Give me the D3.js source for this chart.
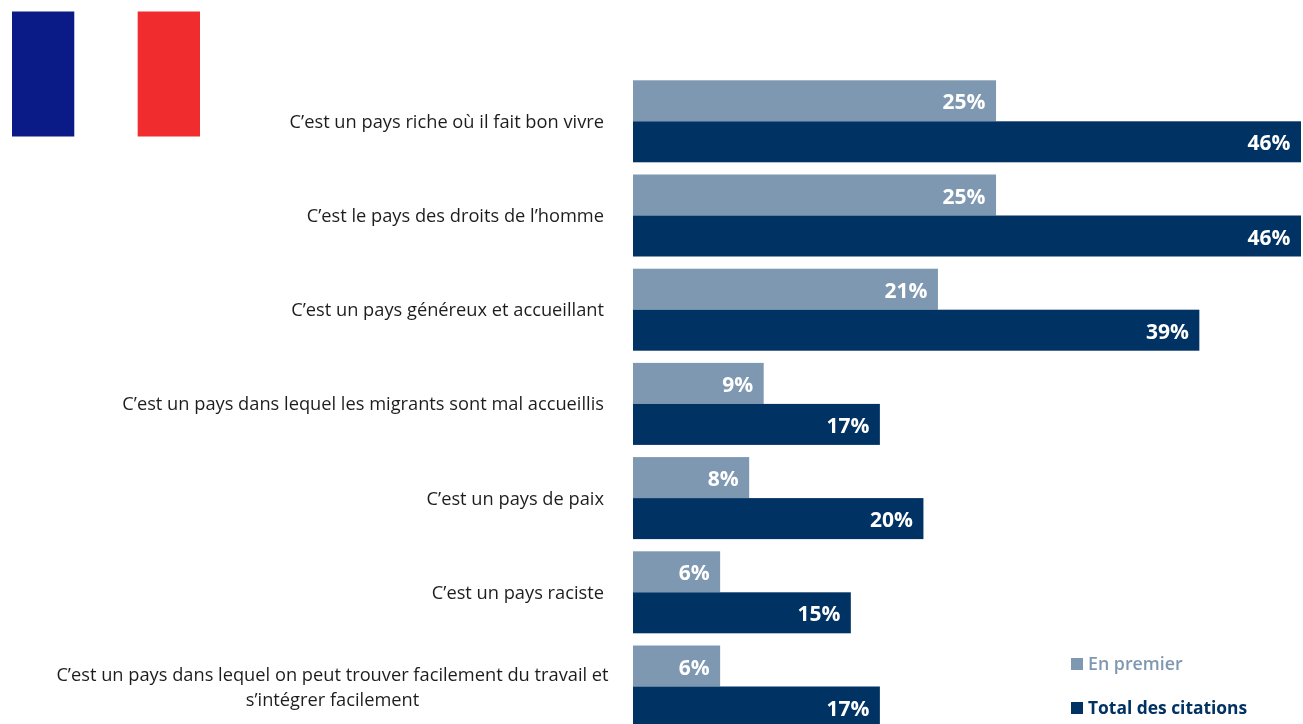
<!DOCTYPE html>
<html><head><meta charset="utf-8">
<script src="https://cdn.jsdelivr.net/npm/d3@7"></script>
<style>html,body{margin:0;padding:0;background:#fff;overflow:hidden}svg{display:block}text{font-family:"Open Sans",sans-serif}</style>
</head><body><svg id="c" width="1303" height="724"></svg>
<script>
const categories=[
 ["C’est un pays riche où il fait bon vivre"],
 ["C’est le pays des droits de l’homme"],
 ["C’est un pays généreux et accueillant"],
 ["C’est un pays dans lequel les migrants sont mal accueillis"],
 ["C’est un pays de paix"],
 ["C’est un pays raciste"],
 ["C’est un pays dans lequel on peut trouver facilement du travail et","s’intégrer facilement"]
];
const enPremier=[25,25,21,9,8,6,6];
const totalCitations=[46,46,39,17,20,15,17];
const seriesNames=["En premier","Total des citations"];
const seriesColors=["#7f98b2","#003263"];
const flagColors=["#0a1a86","#ffffff","#f02c2e"];

const svg=d3.select("#c");
const idx=d3.range(categories.length);
const x=d3.scaleLinear().domain([0,46]).range([633,1301]);
const y=d3.scaleBand().domain(idx).range([80.3,727.5]).paddingInner(0.1295);
const inner=d3.scaleBand().domain([0,1]).range([0,y.bandwidth()]);
const series=[enPremier,totalCitations];

const defs=svg.append("defs");
defs.append("filter").attr("id","soft").attr("x","-5%").attr("y","-5%").attr("width","110%").attr("height","110%")
  .append("feGaussianBlur").attr("stdDeviation",0.5);

// flag
const flagX=d3.scaleBand().domain([0,1,2]).range([12,200.5]);
svg.append("g").selectAll("rect").data(flagColors).join("rect")
  .attr("x",(d,i)=>flagX(i)).attr("y",11.5).attr("width",flagX.bandwidth()-0.5).attr("height",125).attr("fill",d=>d);

// bars
series.forEach((vals,s)=>{
  svg.append("g").selectAll("rect").data(vals).join("rect")
    .attr("x",x(0)).attr("y",(d,i)=>y(i)+inner(s))
    .attr("width",d=>x(d)-x(0)).attr("height",inner.bandwidth())
    .attr("fill",seriesColors[s]);
});
const t=svg.append("g").attr("filter","url(#soft)");
series.forEach((vals,s)=>{
  t.append("g").selectAll("text").data(vals).join("text")
    .attr("x",d=>x(d)-10.5).attr("y",(d,i)=>y(i)+inner(s)+inner.bandwidth()/2+8.6)
    .attr("text-anchor","end").attr("fill","#fff").attr("font-weight",700).attr("font-size",21)
    .text(d=>d+"%");
});
// category labels
categories.forEach((lines,i)=>{
  const n=lines.length, cy=y(i)+y.bandwidth()/2;
  const g=t.append("text").attr("text-anchor",n>1?"middle":"end").attr("fill","#1f1f1f").attr("font-size",18.25);
  lines.forEach((l,k)=>{
    g.append("tspan").attr("x",n>1?332.5:604)
     .attr("y",n>1?cy+(k===0?-5:20):cy+6.5).text(l);
  });
});
// legend
const ly=[664,708];
seriesNames.forEach((name,i)=>{
  svg.append("rect").attr("x",1071).attr("y",ly[i]-6).attr("width",12).attr("height",12).attr("fill",seriesColors[i]);
  t.append("text").attr("x",1088).attr("y",ly[i]+6).attr("fill",seriesColors[i]).attr("font-weight",i?700:600).attr("font-size",i?17.4:17.8).text(name);
});
</script></body></html>
